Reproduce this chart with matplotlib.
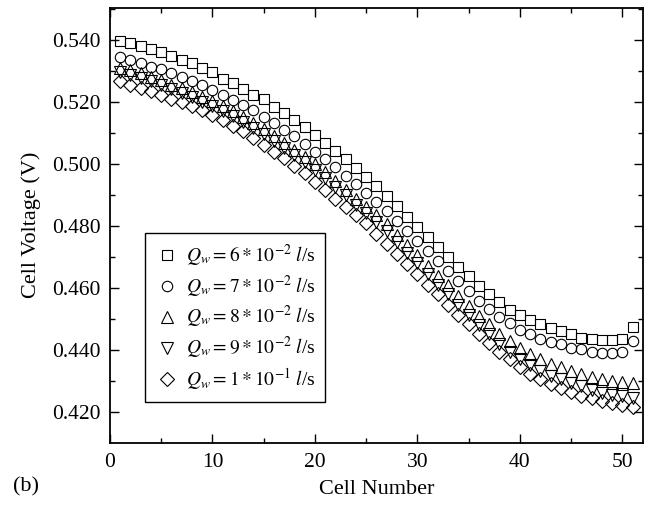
import numpy as np
import matplotlib
matplotlib.use("Agg")
import matplotlib.pyplot as plt
from matplotlib.ticker import MultipleLocator, FormatStrFormatter

plt.rcParams['font.family'] = 'Liberation Serif'
plt.rcParams['mathtext.fontset'] = 'stix'

# data: cell voltage for each cell, five water flow rates
cells = np.arange(1, 52)

v_q6 = [0.5395, 0.5388, 0.5378, 0.5368, 0.5359, 0.5346, 0.5333, 0.5323, 0.5307, 0.5294,
        0.5274, 0.5261, 0.5242, 0.5223, 0.5207, 0.5184, 0.5164, 0.5142, 0.5119, 0.5093,
        0.5067, 0.5041, 0.5016, 0.4987, 0.4957, 0.4928, 0.4896, 0.4863, 0.4829, 0.4796,
        0.4764, 0.4732, 0.4699, 0.4667, 0.4637, 0.4606, 0.4579, 0.4554, 0.4530, 0.4513,
        0.4497, 0.4484, 0.4470, 0.4460, 0.4451, 0.4440, 0.4434, 0.4432, 0.4432, 0.4435,
        0.4473]

v_q7 = [0.5345, 0.5334, 0.5323, 0.5312, 0.5304, 0.5293, 0.5280, 0.5267, 0.5254, 0.5239,
        0.5223, 0.5206, 0.5189, 0.5172, 0.5152, 0.5131, 0.5109, 0.5088, 0.5064, 0.5039,
        0.5015, 0.4989, 0.4961, 0.4935, 0.4907, 0.4877, 0.4848, 0.4816, 0.4783, 0.4751,
        0.4719, 0.4686, 0.4654, 0.4622, 0.4589, 0.4559, 0.4531, 0.4507, 0.4486, 0.4465,
        0.4451, 0.4437, 0.4427, 0.4419, 0.4408, 0.4402, 0.4394, 0.4389, 0.4389, 0.4393,
        0.4428]

v_q8 = [0.5309, 0.5301, 0.5291, 0.5280, 0.5269, 0.5255, 0.5243, 0.5230, 0.5215, 0.5201,
        0.5185, 0.5169, 0.5150, 0.5131, 0.5112, 0.5090, 0.5068, 0.5045, 0.5023, 0.4998,
        0.4972, 0.4945, 0.4917, 0.4888, 0.4861, 0.4834, 0.4805, 0.4770, 0.4737, 0.4705,
        0.4672, 0.4637, 0.4608, 0.4575, 0.4543, 0.4511, 0.4484, 0.4453, 0.4428, 0.4406,
        0.4387, 0.4371, 0.4356, 0.4346, 0.4333, 0.4324, 0.4313, 0.4306, 0.4300, 0.4298,
        0.4295]

v_q9 = [0.5294, 0.5286, 0.5276, 0.5265, 0.5254, 0.5240, 0.5228, 0.5215, 0.5200, 0.5185,
        0.5169, 0.5153, 0.5134, 0.5115, 0.5096, 0.5074, 0.5051, 0.5028, 0.5005, 0.4980,
        0.4954, 0.4926, 0.4898, 0.4868, 0.4841, 0.4813, 0.4783, 0.4747, 0.4713, 0.4680,
        0.4646, 0.4610, 0.4580, 0.4546, 0.4513, 0.4480, 0.4452, 0.4420, 0.4394, 0.4371,
        0.4351, 0.4334, 0.4318, 0.4307, 0.4293, 0.4283, 0.4271, 0.4263, 0.4256, 0.4252,
        0.4247]

v_q10 = [0.5266, 0.5255, 0.5244, 0.5233, 0.5223, 0.5210, 0.5198, 0.5185, 0.5172, 0.5158,
         0.5142, 0.5122, 0.5104, 0.5083, 0.5061, 0.5039, 0.5018, 0.4993, 0.4969, 0.4942,
         0.4915, 0.4888, 0.4861, 0.4834, 0.4809, 0.4775, 0.4743, 0.4710, 0.4678, 0.4646,
         0.4611, 0.4579, 0.4546, 0.4514, 0.4484, 0.4453, 0.4424, 0.4395, 0.4371, 0.4346,
         0.4324, 0.4308, 0.4292, 0.4279, 0.4266, 0.4252, 0.4244, 0.4236, 0.4228, 0.4223,
         0.4216]

labels = [r'$Q_w = 6 * 10^{-2}\ l$/s',
          r'$Q_w = 7 * 10^{-2}\ l$/s',
          r'$Q_w = 8 * 10^{-2}\ l$/s',
          r'$Q_w = 9 * 10^{-2}\ l$/s',
          r'$Q_w = 1 * 10^{-1}\ l$/s']

fig, ax = plt.subplots(figsize=(6.52, 5.05), dpi=100)
fig.subplots_adjust(left=0.1687, right=0.986, top=0.985, bottom=0.123)

series = [v_q6, v_q7, v_q8, v_q9, v_q10]
markers = ['s', 'o', '^', 'v', 'D']
sizes = [7, 7.5, 8.5, 8.5, 7]
for vals, m, s, lab in zip(series, markers, sizes, labels):
    ax.plot(cells, vals, linestyle='none', marker=m, markersize=s,
            markerfacecolor='none', markeredgecolor='black', markeredgewidth=0.8,
            label=lab)

ax.set_xlim(0, 52)
ax.set_ylim(0.4101, 0.5503)
ax.xaxis.set_major_locator(MultipleLocator(10))
ax.xaxis.set_minor_locator(MultipleLocator(5))
ax.yaxis.set_major_locator(MultipleLocator(0.02))
ax.yaxis.set_minor_locator(MultipleLocator(0.01))
ax.yaxis.set_major_formatter(FormatStrFormatter('%.3f'))
ax.tick_params(which='both', direction='in', top=True, right=True, labelsize=15.5, pad=7)
ax.tick_params(which='major', length=6.5, width=1)
ax.tick_params(which='minor', length=3.5, width=1)
for sp in ax.spines.values():
    sp.set_linewidth(1.3)

ax.set_xlabel('Cell Number', fontsize=16, labelpad=6)
ax.set_ylabel('Cell Voltage (V)', fontsize=16, labelpad=8)
fig.text(0.02, 0.036, '(b)', fontsize=16, va='center')

leg = ax.legend(loc='lower left', bbox_to_anchor=(0.066, 0.094), fontsize=14,
                fancybox=False, edgecolor='black', framealpha=1, borderaxespad=0,
                handletextpad=0.4, labelspacing=0.25, borderpad=0.5, handlelength=1.2)
leg.get_frame().set_linewidth(1)

plt.savefig('out.png')
